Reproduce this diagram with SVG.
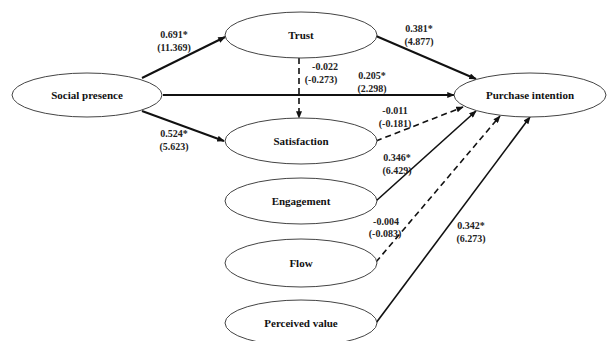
<svg xmlns="http://www.w3.org/2000/svg" width="607" height="341" viewBox="0 0 607 341">
<style>
.n ellipse{fill:#fff;stroke:#444;stroke-width:1}
.n text{font-family:"Liberation Serif",serif;font-weight:bold;font-size:11px;text-anchor:middle;fill:#111}
.c line{stroke:#111;stroke-width:1.6;marker-end:url(#a)}
.c .t{stroke-width:2}
.c .d{stroke-dasharray:6,4}
.l text{font-family:"Liberation Serif",serif;font-weight:bold;font-size:10px;text-anchor:middle;fill:#222}
</style>
<defs>
<marker id="a" viewBox="0 0 10 8" refX="9" refY="4" markerWidth="8" markerHeight="6" orient="auto" markerUnits="userSpaceOnUse">
<path d="M0,0L10,4L0,8z" fill="#111"/>
</marker>
</defs>
<rect width="607" height="341" fill="#fff"/>
<g class="c">
<line class="t" x1="142" y1="78" x2="225" y2="37"/>
<line class="t" x1="142" y1="111" x2="224" y2="141"/>
<line class="t" x1="163" y1="95" x2="454" y2="95"/>
<line class="t" x1="376" y1="36" x2="476" y2="79"/>
<line class="d" x1="299" y1="58" x2="299" y2="118"/>
<line class="d" x1="376" y1="141" x2="463" y2="107"/>
<line x1="376" y1="201" x2="476" y2="111"/>
<line class="d" x1="376" y1="262" x2="500" y2="116"/>
<line x1="376" y1="323" x2="530" y2="117"/>
</g>
<g id="social-presence" class="n"><ellipse cx="87" cy="95" rx="75" ry="22"/><text x="87" y="99">Social presence</text></g>
<g id="trust" class="n"><ellipse cx="301" cy="35" rx="76" ry="23"/><text x="301" y="39">Trust</text></g>
<g id="satisfaction" class="n"><ellipse cx="301" cy="141" rx="76" ry="23"/><text x="301" y="145">Satisfaction</text></g>
<g id="engagement" class="n"><ellipse cx="301" cy="201" rx="76" ry="23"/><text x="301" y="205">Engagement</text></g>
<g id="flow" class="n"><ellipse cx="301" cy="263" rx="76" ry="24"/><text x="301" y="267">Flow</text></g>
<g id="perceived-value" class="n"><ellipse cx="301" cy="323" rx="76" ry="23"/><text x="301" y="327">Perceived value</text></g>
<g id="purchase-intention" class="n"><ellipse cx="530" cy="95" rx="76" ry="22"/><text x="530" y="99">Purchase intention</text></g>
<g class="l">
<text x="174" y="38">0.691*</text><text x="174" y="51">(11.369)</text>
<text x="174" y="137">0.524*</text><text x="174" y="150">(5.623)</text>
<text x="325" y="70">-0.022</text><text x="321" y="83">(-0.273)</text>
<text x="372" y="79">0.205*</text><text x="372" y="92">(2.298)</text>
<text x="419" y="32">0.381*</text><text x="419" y="45">(4.877)</text>
<text x="395" y="114">-0.011</text><text x="395" y="127">(-0.181)</text>
<text x="397" y="161">0.346*</text><text x="397" y="174">(6.429)</text>
<text x="386" y="225">-0.004</text><text x="385" y="237">(-0.083)</text>
<text x="471" y="229">0.342*</text><text x="471" y="242">(6.273)</text>
</g>
</svg>
